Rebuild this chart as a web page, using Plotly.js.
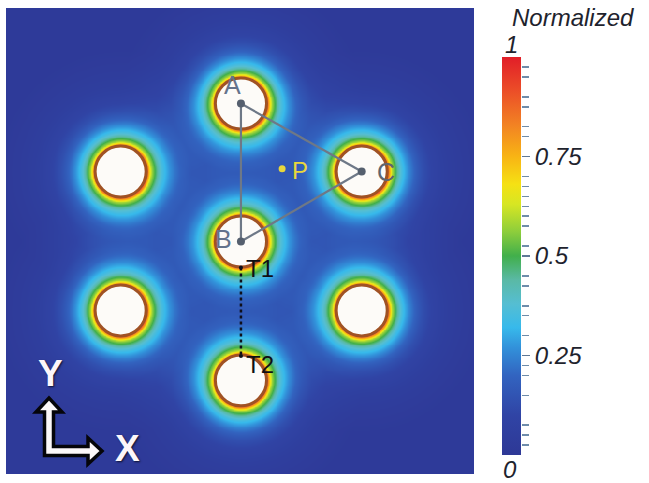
<!DOCTYPE html>
<html><head><meta charset="utf-8">
<script src="https://cdn.plot.ly/plotly-3.0.1.min.js"></script>
<style>html,body{margin:0;padding:0;background:#fff}#chart{width:649px;height:483px}</style>
</head><body><div id="chart"></div>
<script>
// ---- data ----
const tubeNames = ['A', 'B', 'S', 'C', 'UL', 'LL', 'LR'];
const tubeX = [50.2, 50.2, 50.2, 76.0, 24.5, 24.5, 76.0];
const tubeY = [79.5, 49.9, 20.1, 64.9, 64.9, 35.1, 35.1];
const tubeRadius = 5.13;
// normalized value vs distance from a tube centre
const profileR = [0, 5.3, 5.78, 6.1, 6.42, 6.85, 7.28, 7.71, 8.14, 8.78, 9.42, 10.28, 11.56, 12.85, 15.0, 18.2, 22.5, 26];
const profileV = [1, 0.95, 0.80, 0.68, 0.57, 0.51, 0.46, 0.41, 0.36, 0.31, 0.27, 0.22, 0.16, 0.115, 0.07, 0.035, 0.012, 0];
const backgroundLevel = 0.02;
const triangleNames = ['A', 'B', 'C'];
const pointPX = [59.0];
const pointPY = [65.5];
const probeNames = ['T1', 'T2'];
const probeX = [50.2, 50.2];
const probeY = [44.3, 25.3];
const cbTickVals = [0.25, 0.5, 0.75];
const cbTickText = ['0.25', '0.5', '0.75'];
const cbMinorVals = [0.025, 0.05, 0.075, 0.15, 0.2, 0.225, 0.3, 0.35, 0.375, 0.425, 0.45, 0.525,
  0.575, 0.6, 0.625, 0.65, 0.675, 0.7, 0.8, 0.825, 0.875, 0.9, 0.95, 0.975];

// ---- build field ----
function lookup(d) {
  if (d >= profileR[profileR.length - 1]) return 0;
  for (let k = 1; k < profileR.length; k++) {
    if (d <= profileR[k]) {
      const t = (d - profileR[k - 1]) / (profileR[k] - profileR[k - 1]);
      return profileV[k - 1] + t * (profileV[k] - profileV[k - 1]);
    }
  }
  return 0;
}
const gx = [], gy = [];
for (let v = 0; v <= 100.0001; v += 0.4) { gx.push(+v.toFixed(2)); gy.push(+v.toFixed(2)); }
const z = gy.map(y => gx.map(x => {
  let s = backgroundLevel;
  for (let i = 0; i < tubeX.length; i++) {
    const d = Math.hypot(x - tubeX[i], y - tubeY[i]);
    s += lookup(d);
  }
  return Math.min(s, 1);
}));

const cscale = [
  [0, 'rgb(46,56,150)'], [0.1, 'rgb(48,68,165)'], [0.2, 'rgb(50,100,192)'],
  [0.27, 'rgb(50,145,218)'], [0.32, 'rgb(55,185,235)'], [0.38, 'rgb(85,190,210)'],
  [0.44, 'rgb(90,185,165)'], [0.5, 'rgb(65,175,75)'], [0.56, 'rgb(140,205,60)'],
  [0.63, 'rgb(215,230,35)'], [0.68, 'rgb(245,225,20)'], [0.75, 'rgb(248,180,20)'],
  [0.83, 'rgb(242,130,35)'], [0.92, 'rgb(235,75,40)'], [1, 'rgb(225,30,40)']
];

const W = 649, H = 483;
const px = (x) => x / W, py = (y) => 1 - y / H;

const traces = [
  {
    type: 'heatmap', x: gx, y: gy, z: z, zmin: 0, zmax: 1, zsmooth: 'best',
    colorscale: cscale, hoverinfo: 'skip',
    colorbar: {
      thickness: 19, thicknessmode: 'pixels', len: 398, lenmode: 'pixels',
      x: px(502), xanchor: 'left', y: py(256), yanchor: 'middle', xpad: 0, ypad: 0,
      outlinewidth: 0, showticklabels: false, ticks: ''
    }
  },
  { type: 'scatter', x: [], y: [], xaxis: 'x2', yaxis: 'y2', showlegend: false, hoverinfo: 'skip' }
];

const shapes = [];
for (let i = 0; i < tubeX.length; i++) {
  const R = tubeRadius + 0.33;
  shapes.push({
    type: 'circle', xref: 'x', yref: 'y',
    x0: tubeX[i] - R, x1: tubeX[i] + R, y0: tubeY[i] - R, y1: tubeY[i] + R,
    fillcolor: 'rgb(253,251,248)', line: { color: 'rgb(160,82,36)', width: 3 }
  });
}
const triIdx = triangleNames.map(n => tubeNames.indexOf(n));
[[0, 1], [0, 2], [1, 2]].forEach(([a, b]) => {
  const i = triIdx[a], j = triIdx[b];
  shapes.push({ type: 'line', xref: 'x', yref: 'y', x0: tubeX[i], y0: tubeY[i], x1: tubeX[j], y1: tubeY[j],
    line: { color: 'rgb(110,120,135)', width: 2.2 } });
});
triIdx.forEach(i => shapes.push({
  type: 'circle', xref: 'x', yref: 'y', xsizemode: 'pixel', ysizemode: 'pixel',
  xanchor: tubeX[i], yanchor: tubeY[i], x0: -4, x1: 4, y0: -4, y1: 4,
  fillcolor: 'rgb(85,95,110)', line: { width: 0 }
}));
shapes.push({ type: 'line', xref: 'x', yref: 'y', x0: probeX[0], y0: probeY[0], x1: probeX[1], y1: probeY[1],
  line: { color: 'rgb(15,15,25)', width: 2.5, dash: 'dot' } });
probeX.forEach((x, i) => shapes.push({
  type: 'circle', xref: 'x', yref: 'y', xsizemode: 'pixel', ysizemode: 'pixel',
  xanchor: x, yanchor: probeY[i], x0: -2, x1: 2, y0: -2, y1: 2,
  fillcolor: 'rgb(15,15,25)', line: { width: 0 }
}));
shapes.push({
  type: 'circle', xref: 'x', yref: 'y', xsizemode: 'pixel', ysizemode: 'pixel',
  xanchor: pointPX[0], yanchor: pointPY[0], x0: -3.5, x1: 3.5, y0: -3.5, y1: 3.5,
  fillcolor: 'rgb(232,215,60)', line: { width: 0 }
});
// L-shaped axis indicator (decoration)
const arrowPts = [[44.5, 455.5], [44.5, 412], [36, 412], [49, 398], [62, 412], [53.5, 412], [53.5, 446.5],
  [88, 446.5], [88, 438], [102, 451], [88, 464], [88, 455.5]];
shapes.push({
  type: 'path', xref: 'paper', yref: 'paper',
  path: 'M' + arrowPts.map(p => px(p[0]).toFixed(5) + ',' + py(p[1]).toFixed(5)).join(' L') + ' Z',
  fillcolor: 'rgb(252,248,250)', line: { color: 'rgb(5,5,10)', width: 3.5 }
});

const font = 'Liberation Sans, Arial, sans-serif';
const ann = [];
const labelPos = { A: [48.3, 83.5], B: [46.4, 50.4], C: [81.2, 64.8] };
triangleNames.forEach(n => ann.push({ x: labelPos[n][0], y: labelPos[n][1], xref: 'x', yref: 'y', text: n, showarrow: false,
  xanchor: 'center', yanchor: 'middle',
  font: { family: font, size: 25, color: n === 'C' ? 'rgb(95,100,110)' : 'rgb(100,115,140)' } }));
ann.push({ x: pointPX[0] + 3.8, y: pointPY[0] - 0.3, xref: 'x', yref: 'y', text: 'P', showarrow: false,
  xanchor: 'center', yanchor: 'middle', font: { family: font, size: 24, color: 'rgb(232,215,60)' } });
probeNames.forEach((n, i) => ann.push({ x: probeX[i] + 0.6, y: probeY[i] + (i === 0 ? -0.3 : -1.9), xref: 'x', yref: 'y',
  text: n, showarrow: false, xanchor: 'left', yanchor: 'middle', font: { family: font, size: 24, color: 'rgb(15,15,20)' } }));
const axf = { family: font, size: 37, weight: 'bold', color: 'rgb(252,246,250)', shadow: '1px 1px 2px rgba(0,0,0,0.7)' };
ann.push({ x: px(50), y: py(373), xref: 'paper', yref: 'paper', text: 'Y', showarrow: false,
  xanchor: 'center', yanchor: 'middle', font: axf });
ann.push({ x: px(127), y: py(448), xref: 'paper', yref: 'paper', text: 'X', showarrow: false,
  xanchor: 'center', yanchor: 'middle', font: axf });
const itf = { family: font, size: 24, color: 'rgb(30,35,45)', style: 'italic' };
ann.push({ x: px(510), y: py(18), xref: 'paper', yref: 'paper', xanchor: 'left', yanchor: 'middle', text: 'Normalized', showarrow: false, font: itf });
ann.push({ x: px(511), y: py(45), xref: 'paper', yref: 'paper', xanchor: 'center', yanchor: 'middle', text: '1', showarrow: false, font: itf });
ann.push({ x: px(510), y: py(469), xref: 'paper', yref: 'paper', xanchor: 'center', yanchor: 'middle', text: '0', showarrow: false, font: itf });

const layout = {
  width: W, height: H, margin: { l: 0, r: 0, t: 0, b: 0 },
  paper_bgcolor: '#ffffff', plot_bgcolor: '#ffffff', showlegend: false,
  xaxis: { domain: [px(6), px(474)], range: [0, 100], visible: false, fixedrange: true },
  yaxis: { domain: [py(474), py(8)], range: [0, 100], visible: false, fixedrange: true },
  xaxis2: { domain: [px(502), px(521)], range: [0, 1], visible: false, anchor: 'y2' },
  yaxis2: {
    domain: [py(455), py(57)], range: [0, 1], anchor: 'x2', side: 'right', showgrid: false, zeroline: false,
    showline: false, ticks: 'outside', ticklen: 8, tickwidth: 1.5, tickcolor: 'rgb(95,120,150)',
    tickvals: cbTickVals, ticktext: cbTickText, tickfont: itf,
    minor: { tickvals: cbMinorVals, ticks: 'outside', ticklen: 7, tickwidth: 1.5, tickcolor: 'rgb(110,140,170)', showgrid: false }
  },
  shapes: shapes, annotations: ann
};
Plotly.newPlot('chart', traces, layout, { staticPlot: true, displayModeBar: false });
</script></body></html>
